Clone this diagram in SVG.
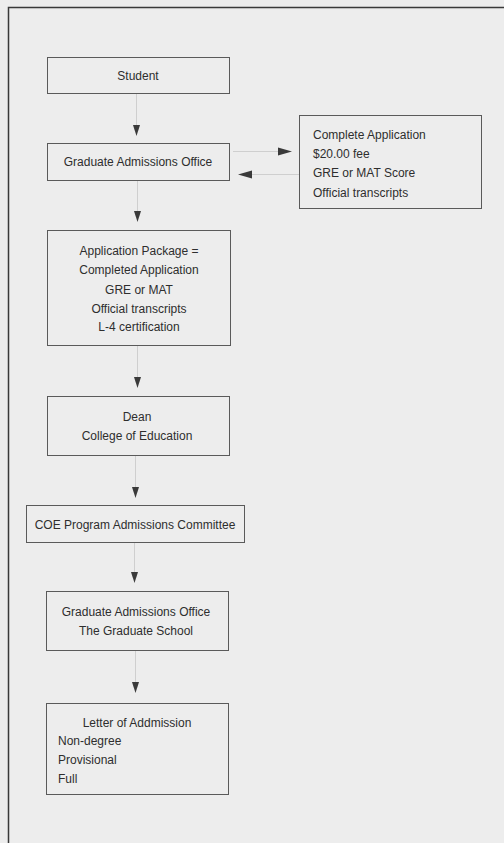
<svg xmlns="http://www.w3.org/2000/svg" width="504" height="843" viewBox="0 0 504 843">
<style>
.bg{fill:#ededed}
.box{fill:none;stroke:#5a5a5a;stroke-width:1}
.frame{fill:none;stroke:#3a3a3a;stroke-width:1.5}
text{font-family:"Liberation Sans",Arial,sans-serif;font-size:12px;fill:#2e2e2e}
.c{text-anchor:middle}
.ln{stroke:#cfcfcf;stroke-width:1;fill:none}
.hd{fill:#3a3a3a}
</style>
<rect class="bg" x="0" y="0" width="504" height="843"/>
<path class="frame" d="M8.5,843 V7.5 H504"/>
<g id="student">
<rect class="box" x="47.5" y="57.5" width="182" height="36"/>
<text class="c" x="138" y="80">Student</text>
</g>
<g id="grad-office">
<rect class="box" x="47.5" y="143.5" width="182" height="37"/>
<text class="c" x="138" y="166">Graduate Admissions Office</text>
</g>
<g id="requirements">
<rect class="box" x="299.5" y="115.5" width="182" height="93"/>
<text x="313" y="139">Complete Application</text>
<text x="313" y="158">$20.00 fee</text>
<text x="313" y="177">GRE or MAT Score</text>
<text x="313" y="197">Official transcripts</text>
</g>
<g id="app-package">
<rect class="box" x="47.5" y="230.5" width="183" height="115"/>
<text class="c" x="139" y="255">Application Package =</text>
<text class="c" x="139" y="274">Completed Application</text>
<text class="c" x="139" y="294">GRE or MAT</text>
<text class="c" x="139" y="313">Official transcripts</text>
<text class="c" x="139" y="331">L-4 certification</text>
</g>
<g id="dean">
<rect class="box" x="47.5" y="396.5" width="182" height="59"/>
<text class="c" x="137" y="421">Dean</text>
<text class="c" x="137" y="440">College of Education</text>
</g>
<g id="coe">
<rect class="box" x="26.5" y="505.5" width="218" height="37"/>
<text class="c" x="135" y="529">COE Program Admissions Committee</text>
</g>
<g id="grad-school">
<rect class="box" x="46.5" y="591.5" width="182" height="59"/>
<text class="c" x="136" y="616">Graduate Admissions Office</text>
<text class="c" x="136" y="635">The Graduate School</text>
</g>
<g id="letter">
<rect class="box" x="46.5" y="703.5" width="182" height="91"/>
<text class="c" x="137" y="727">Letter of Addmission</text>
<text x="58" y="745">Non-degree</text>
<text x="58" y="764">Provisional</text>
<text x="58" y="783">Full</text>
</g>
<g id="connectors">
<line class="ln" x1="136.5" y1="94" x2="136.5" y2="126"/>
<path class="hd" d="M133,125 H140 L136.5,136 Z"/>
<line class="ln" x1="233" y1="151.5" x2="280" y2="151.5"/>
<path class="hd" d="M278,147.5 L292,151.5 L278,155.5 Z"/>
<line class="ln" x1="250" y1="174.5" x2="299" y2="174.5"/>
<path class="hd" d="M252,170.5 L238,174.5 L252,178.5 Z"/>
<line class="ln" x1="137.5" y1="181" x2="137.5" y2="212"/>
<path class="hd" d="M134,211 H141 L137.5,222 Z"/>
<line class="ln" x1="137.5" y1="346" x2="137.5" y2="378"/>
<path class="hd" d="M134,377 H141 L137.5,388 Z"/>
<line class="ln" x1="135.5" y1="456" x2="135.5" y2="488"/>
<path class="hd" d="M132,487 H139 L135.5,498 Z"/>
<line class="ln" x1="134.5" y1="543" x2="134.5" y2="573"/>
<path class="hd" d="M131,572 H138 L134.5,583 Z"/>
<line class="ln" x1="135.5" y1="651" x2="135.5" y2="683"/>
<path class="hd" d="M132,682 H139 L135.5,693 Z"/>
</g>
</svg>
